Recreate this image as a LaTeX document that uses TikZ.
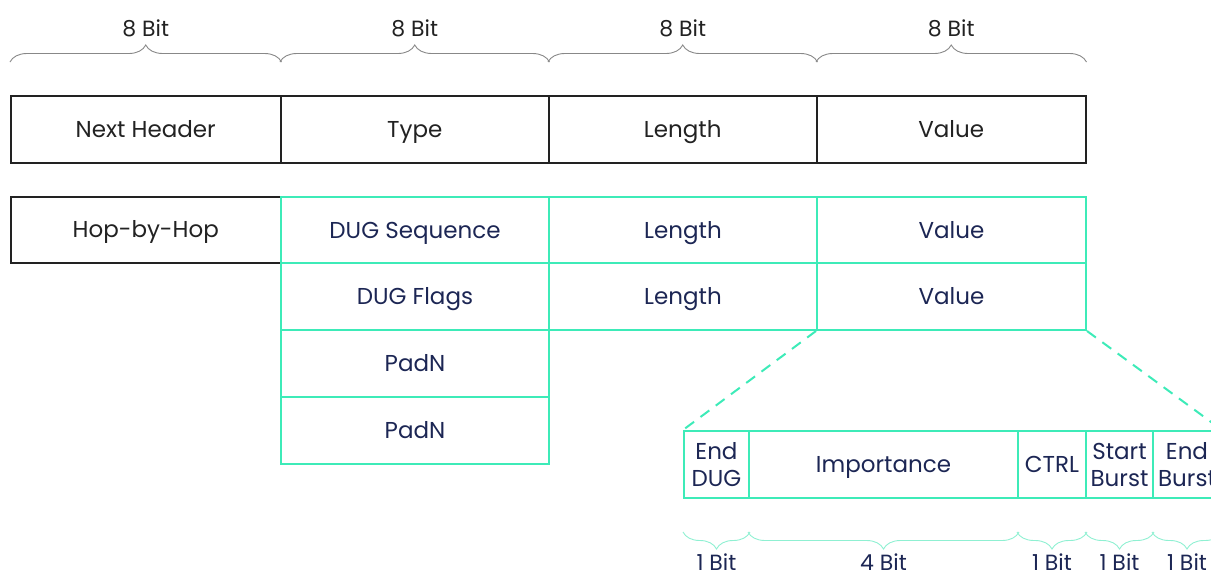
\documentclass[tikz,border=0pt]{standalone}
\usepackage{fontspec}
\setmainfont{Poppins}
\usetikzlibrary{decorations.pathreplacing}
\definecolor{tq}{HTML}{3DEBB8}
\definecolor{tqlight}{HTML}{8FF0D2}
\definecolor{navy}{HTML}{1C2654}
\definecolor{ink}{HTML}{222222}
\definecolor{bracegray}{HTML}{888888}
\tikzset{
  cellbase/.style={anchor=north west, inner sep=0pt, align=center,
    font=\fontsize{23}{27}\selectfont},
  oneline/.style={text height=16pt, text depth=0pt},
  blk/.style={cellbase, draw=ink, line width=1.5pt, text=ink},
  grn/.style={cellbase, draw=tq, line width=2pt, text=navy},
  topbrace/.style={draw=bracegray, line width=0.9pt,
    decorate, decoration={brace, amplitude=17pt}},
  botbrace/.style={draw=tqlight, line width=0.9pt,
    decorate, decoration={brace, amplitude=17pt}},
  toplbl/.style={text=ink, font=\fontsize{22}{25}\selectfont, inner sep=0pt},
  botlbl/.style={text=navy, font=\fontsize{22}{25}\selectfont, inner sep=0pt,
    text height=16pt, text depth=0pt},
  zoomline/.style={draw=tq, line width=2pt, dash pattern=on 11pt off 8pt}
}
\begin{document}
\begin{tikzpicture}[x=1pt,y=-1pt]
\useasboundingbox (0,0) rectangle (1211,571);
\clip (0,0) rectangle (1211,571);
% top row
\node[blk, oneline, minimum width=270pt, minimum height=67pt] (nh) at (10,95) {Next Header};
\node[blk, oneline, minimum width=268pt, minimum height=67pt] (ty) at (280,95) {Type};
\node[blk, oneline, minimum width=268pt, minimum height=67pt] (le) at (548,95) {Length};
\node[blk, oneline, minimum width=269pt, minimum height=67pt] (va) at (816,95) {Value};
% second block
\node[blk, oneline, minimum width=270pt, minimum height=66pt] (hbh) at (10,196) {Hop-by-Hop};
\node[grn, oneline, minimum width=268pt, minimum height=66pt] (dseq) at (280,196) {DUG Sequence};
\node[grn, oneline, minimum width=268pt, minimum height=66pt] (l2) at (548,196) {Length};
\node[grn, oneline, minimum width=269pt, minimum height=66pt] (v2) at (816,196) {Value};
\node[grn, oneline, minimum width=268pt, minimum height=67pt] (dfl) at (280,262) {DUG Flags};
\node[grn, oneline, minimum width=268pt, minimum height=67pt] (l3) at (548,262) {Length};
\node[grn, oneline, minimum width=269pt, minimum height=67pt] (v3) at (816,262) {Value};
\node[grn, oneline, minimum width=268pt, minimum height=67pt] (p1) at (280,329) {PadN};
\node[grn, oneline, minimum width=268pt, minimum height=67pt] (p2) at (280,396) {PadN};
% expanded flags
\node[grn, minimum width=65pt, minimum height=67pt] (ed) at (683,430) {End\\DUG};
\node[grn, oneline, minimum width=269pt, minimum height=67pt] (imp) at (748,430) {Importance};
\node[grn, oneline, minimum width=68pt, minimum height=67pt] (ctrl) at (1017,430) {CTRL};
\node[grn, minimum width=67pt, minimum height=67pt] (sb) at (1085,430) {Start\\Burst};
\node[grn, minimum width=68pt, minimum height=67pt] (eb) at (1152,430) {End\\Burst};
% zoom lines
\draw[zoomline] (v3.south west) -- (ed.north west);
\draw[zoomline] (v3.south east) -- (eb.north east);
% top braces
\draw[topbrace] ([yshift=33pt]nh.north west) -- ([yshift=33pt]nh.north east)
  node[toplbl, midway, yshift=34pt] (t1) {8 Bit};
\draw[topbrace] ([yshift=33pt]ty.north west) -- ([yshift=33pt]ty.north east)
  node[toplbl, midway, yshift=34pt] (t2) {8 Bit};
\draw[topbrace] ([yshift=33pt]le.north west) -- ([yshift=33pt]le.north east)
  node[toplbl, midway, yshift=34pt] (t3) {8 Bit};
\draw[topbrace] ([yshift=33pt]va.north west) -- ([yshift=33pt]va.north east)
  node[toplbl, midway, yshift=34pt] (t4) {8 Bit};
% bottom braces
\draw[botbrace] ([yshift=-33pt]ed.south east) -- ([yshift=-33pt]ed.south west)
  node[botlbl, midway, yshift=-30pt] (b1) {1 Bit};
\draw[botbrace] ([yshift=-33pt]imp.south east) -- ([yshift=-33pt]imp.south west)
  node[botlbl, midway, yshift=-30pt] (b2) {4 Bit};
\draw[botbrace] ([yshift=-33pt]ctrl.south east) -- ([yshift=-33pt]ctrl.south west)
  node[botlbl, midway, yshift=-30pt] (b3) {1 Bit};
\draw[botbrace] ([yshift=-33pt]sb.south east) -- ([yshift=-33pt]sb.south west)
  node[botlbl, midway, yshift=-30pt] (b4) {1 Bit};
\draw[botbrace] ([yshift=-33pt]eb.south east) -- ([yshift=-33pt]eb.south west)
  node[botlbl, midway, yshift=-30pt] (b5) {1 Bit};
\end{tikzpicture}
\end{document}
